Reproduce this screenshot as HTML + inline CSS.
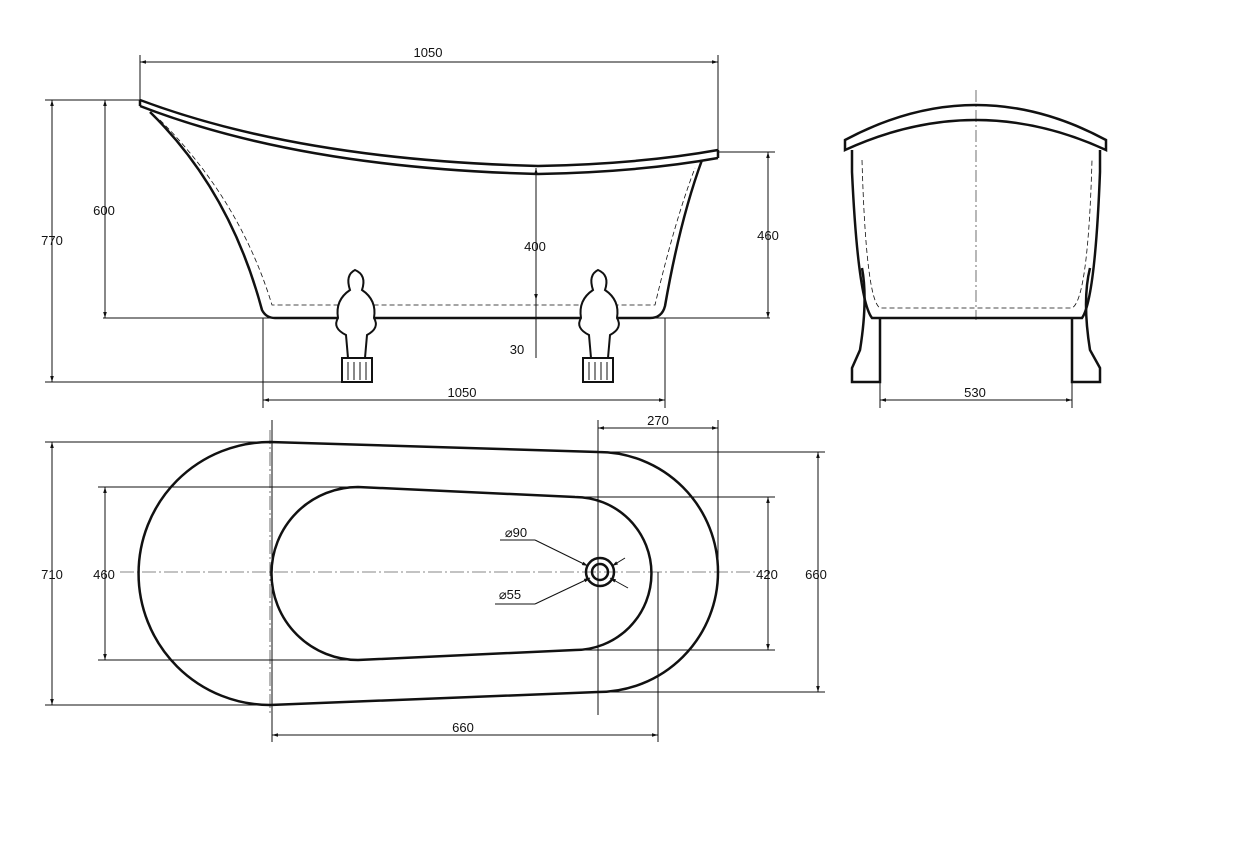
<!DOCTYPE html>
<html><head><meta charset="utf-8"><style>
html,body{margin:0;padding:0;background:#fff}
svg{display:block}
text{font-family:"Liberation Sans",sans-serif;font-size:13px;fill:#111;text-anchor:middle}
</style></head><body>
<svg width="1260" height="863" viewBox="0 0 1260 863" xmlns="http://www.w3.org/2000/svg">
<defs>
<marker id="a" viewBox="0 0 10 10" refX="10" refY="5" markerWidth="8" markerHeight="6" orient="auto-start-reverse"><path d="M0,2 L10,5 L0,8 z" fill="#111"/></marker>
</defs>
<g stroke="#111" fill="none">
<!-- SIDE VIEW -->
<g stroke-width="1">
<line x1="140" y1="100" x2="140" y2="55"/><line x1="718" y1="152" x2="718" y2="55"/>
<line x1="140" y1="62" x2="718" y2="62" marker-start="url(#a)" marker-end="url(#a)"/>
<line x1="45" y1="100" x2="140" y2="100"/><line x1="45" y1="382" x2="360" y2="382"/>
<line x1="52" y1="100" x2="52" y2="382" marker-start="url(#a)" marker-end="url(#a)"/>
<line x1="105" y1="100" x2="105" y2="318" marker-start="url(#a)" marker-end="url(#a)"/>
<line x1="103" y1="318" x2="770" y2="318"/>
<line x1="718" y1="152" x2="775" y2="152"/>
<line x1="768" y1="152" x2="768" y2="318" marker-start="url(#a)" marker-end="url(#a)"/>
<line x1="536" y1="168" x2="536" y2="300" marker-start="url(#a)" marker-end="url(#a)"/>
<line x1="536" y1="300" x2="536" y2="358"/>
<line x1="263" y1="318" x2="263" y2="408"/><line x1="665" y1="318" x2="665" y2="408"/>
<line x1="263" y1="400" x2="665" y2="400" marker-start="url(#a)" marker-end="url(#a)"/>
</g>
<g stroke-width="2.5">
<path d="M140,100 Q300,160 538,166 Q640,164 718,150"/>
<path d="M140,106 Q300,168 538,174 Q640,172 718,158"/>
<path d="M140,100 L140,106 M718,150 L718,158"/>
<path d="M150,112 Q230,190 262,310 Q266,318 275,318 L650,318 Q662,318 665,306 Q680,220 702,160"/>
</g>
<path d="M160,120 Q240,200 272,305 L655,305 Q675,220 695,168" stroke-dasharray="5,3" stroke-width="0.8"/>
<!-- feet -->
<g stroke-width="2" fill="#fff">
<path d="M355,270 Q345,275 350,290 Q335,300 338,318 Q332,328 346,335 L348,358 L365,358 L367,335 Q380,328 374,318 Q377,300 362,290 Q367,275 355,270z"/>
<rect x="342" y="358" width="30" height="24"/>
<path d="M598,270 Q588,275 593,290 Q578,300 581,318 Q575,328 589,335 L591,358 L608,358 L610,335 Q623,328 617,318 Q620,300 605,290 Q610,275 598,270z"/>
<rect x="583" y="358" width="30" height="24"/>
</g>
<g stroke-width="1"><path d="M348,362V380M354,362V380M360,362V380M366,362V380M589,362V380M595,362V380M601,362V380M607,362V380"/></g>
<!-- END VIEW -->
<g stroke-width="2.5">
<path d="M845,140 Q976,70 1106,140 L1106,150 Q976,90 845,150 Z"/>
<path d="M852,150 L852,172 Q858,300 872,318 L1082,318 Q1095,300 1100,172 L1100,150"/>
<path d="M862,268 Q868,300 860,350 L852,368 L852,382 L880,382 L880,318 M1090,268 Q1082,300 1090,350 L1100,368 L1100,382 L1072,382 L1072,318"/>
</g>
<path d="M862,160 Q866,300 880,308 L1072,308 Q1088,300 1092,160" stroke-dasharray="5,3" stroke-width="0.8"/>
<line x1="976" y1="90" x2="976" y2="320" stroke-width="0.6" stroke-dasharray="12,3,2,3"/>
<g stroke-width="1"><line x1="880" y1="382" x2="880" y2="408"/><line x1="1072" y1="382" x2="1072" y2="408"/>
<line x1="880" y1="400" x2="1072" y2="400" marker-start="url(#a)" marker-end="url(#a)"/></g>
<!-- PLAN VIEW -->
<g stroke-width="2.5">
<path d="M270,442 L598,452 A120,120 0 0 1 598,692 L270,705 A131.5,131.5 0 0 1 270,442 Z"/>
<path d="M358,487 L575,497 A76.5,76.5 0 0 1 575,650 L358,660 A86.5,86.5 0 0 1 358,487 Z"/>
<circle cx="600" cy="572" r="14"/><circle cx="600" cy="572" r="8"/>
</g>
<g stroke-width="1">
<line x1="45" y1="442" x2="270" y2="442"/><line x1="45" y1="705" x2="270" y2="705"/>
<line x1="52" y1="442" x2="52" y2="705" marker-start="url(#a)" marker-end="url(#a)"/>
<line x1="98" y1="487" x2="358" y2="487"/><line x1="98" y1="660" x2="358" y2="660"/>
<line x1="105" y1="487" x2="105" y2="660" marker-start="url(#a)" marker-end="url(#a)"/>
<line x1="575" y1="497" x2="775" y2="497"/><line x1="575" y1="650" x2="775" y2="650"/>
<line x1="768" y1="497" x2="768" y2="650" marker-start="url(#a)" marker-end="url(#a)"/>
<line x1="598" y1="452" x2="825" y2="452"/><line x1="598" y1="692" x2="825" y2="692"/>
<line x1="818" y1="452" x2="818" y2="692" marker-start="url(#a)" marker-end="url(#a)"/>
<line x1="272" y1="420" x2="272" y2="742"/><line x1="658" y1="572" x2="658" y2="742"/>
<line x1="272" y1="735" x2="658" y2="735" marker-start="url(#a)" marker-end="url(#a)"/>
<line x1="598" y1="420" x2="598" y2="715"/><line x1="718" y1="420" x2="718" y2="572"/>
<line x1="598" y1="428" x2="718" y2="428" marker-start="url(#a)" marker-end="url(#a)"/>
<line x1="500" y1="540" x2="535" y2="540"/><line x1="535" y1="540" x2="588" y2="566" marker-end="url(#a)"/>
<line x1="495" y1="604" x2="535" y2="604"/><line x1="535" y1="604" x2="590" y2="578" marker-end="url(#a)"/>
<line x1="625" y1="558" x2="612" y2="566" marker-end="url(#a)"/>
<line x1="628" y1="588" x2="610" y2="578" marker-end="url(#a)"/>
</g>
<line x1="120" y1="572" x2="760" y2="572" stroke-width="0.6" stroke-dasharray="14,3,2,3"/>
<line x1="270" y1="430" x2="270" y2="715" stroke-width="0.6" stroke-dasharray="14,3,2,3"/>
</g>
<text x="428" y="57">1050</text>
<text x="52" y="245">770</text>
<text x="104" y="215">600</text>
<text x="768" y="240">460</text>
<text x="535" y="251">400</text>
<text x="517" y="354">30</text>
<text x="462" y="397">1050</text>
<text x="975" y="397">530</text>
<text x="658" y="425">270</text>
<text x="52" y="579">710</text>
<text x="104" y="579">460</text>
<text x="767" y="579">420</text>
<text x="816" y="579">660</text>
<text x="463" y="732">660</text>
<text x="516" y="537">⌀90</text>
<text x="510" y="599">⌀55</text>
</svg>
</body></html>
